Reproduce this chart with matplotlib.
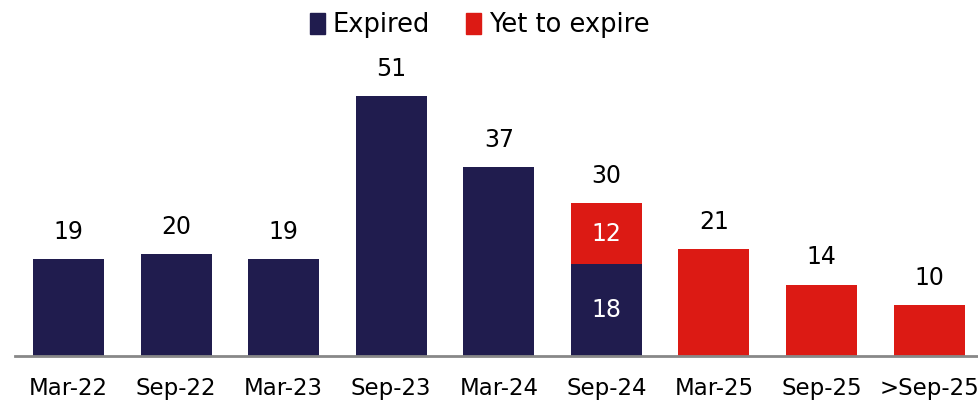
import matplotlib
matplotlib.use('Agg')
import matplotlib.pyplot as plt
from matplotlib.patches import Patch

plt.rcParams['font.family'] = ['DejaVu Sans']

# data
categories = ['Mar-22', 'Sep-22', 'Mar-23', 'Sep-23', 'Mar-24', 'Sep-24', 'Mar-25', 'Sep-25', '>Sep-25']
expired = [19, 20, 19, 51, 37, 18, 0, 0, 0]
yet_to_expire = [0, 0, 0, 0, 0, 12, 21, 14, 10]

navy = '#201c4e'
red = '#dc1a14'

fig = plt.figure(figsize=(9.79, 4.01), dpi=100)
ax = fig.add_axes([0.015, 0.112, 0.989, 0.763])

x = list(range(len(categories)))
w = 0.66
ax.bar(x, expired, width=w, color=navy, zorder=2)
ax.bar(x, yet_to_expire, width=w, bottom=expired, color=red, zorder=2)

for i in x:
    e, y = expired[i], yet_to_expire[i]
    total = e + y
    ax.text(i, total + 3.0, str(total), ha='center', va='bottom', fontsize=17, color='black')
    if e and y:
        ax.text(i, e / 2, str(e), ha='center', va='center', fontsize=17, color='white')
        ax.text(i, e + y / 2, str(y), ha='center', va='center', fontsize=17, color='white')

ax.set_xlim(-0.5, 8.5)
ax.set_ylim(0, 60)
ax.set_xticks(x)
ax.set_xticklabels(categories, fontsize=16.5)
ax.tick_params(axis='x', length=0, pad=15)
ax.set_yticks([])
for s in ['top', 'right', 'left']:
    ax.spines[s].set_visible(False)
ax.spines['bottom'].set_color('#888888')
ax.spines['bottom'].set_linewidth(2)
ax.spines['bottom'].set_zorder(3)

handles = [Patch(color=navy, label='Expired'), Patch(color=red, label='Yet to expire')]
fig.legend(handles=handles, loc='center', bbox_to_anchor=(0.49, 0.937), ncol=2, frameon=False,
           fontsize=18.5, handlelength=0.6, handleheight=0.9, handletextpad=0.3, columnspacing=1.4)

fig.savefig('out.png', dpi=100)
